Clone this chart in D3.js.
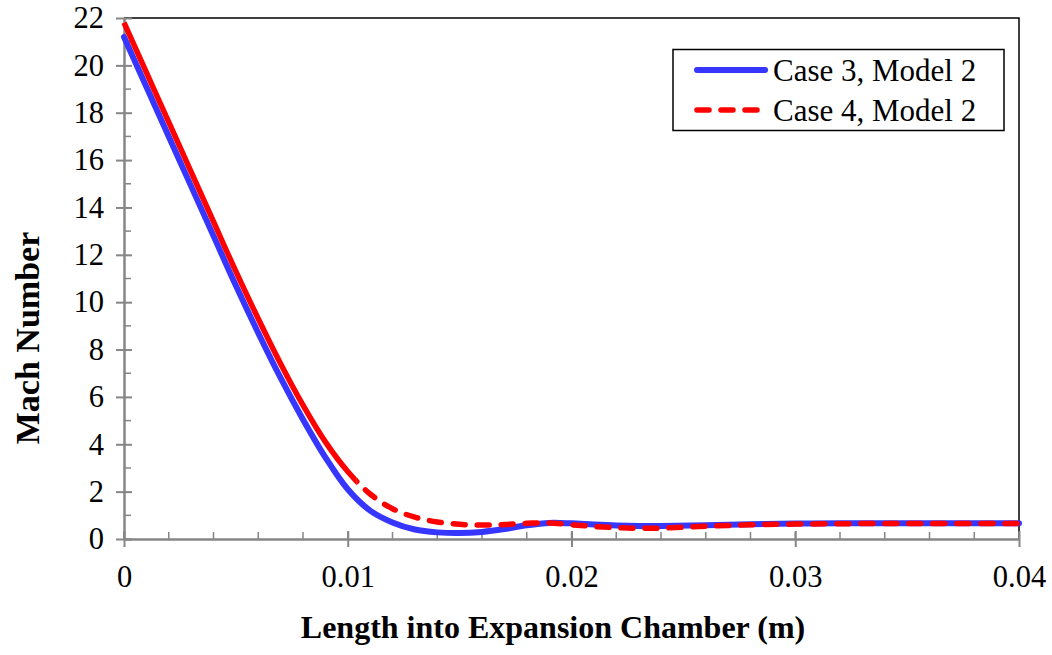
<!DOCTYPE html>
<html>
<head>
<meta charset="utf-8">
<script src="https://cdn.jsdelivr.net/npm/d3@7"></script>
<style>
  html, body { margin: 0; padding: 0; background: #fff; }
  svg { display: block; }
  text { font-family: "Liberation Serif", "Times New Roman", serif; fill: #000; }
</style>
</head>
<body>
<svg id="chart" width="1052" height="655"></svg>
<script>
// Mach number along the expansion chamber, two cases
const lengthCase3 = [0, 0.001, 0.002, 0.003, 0.004, 0.005, 0.006, 0.007, 0.008, 0.009, 0.010, 0.011,
  0.012, 0.013, 0.014, 0.015, 0.016, 0.017, 0.018, 0.019, 0.020, 0.021, 0.022, 0.023, 0.024,
  0.026, 0.028, 0.030, 0.032, 0.035, 0.040];
const machCase3 = [21.2, 19.1, 17.0, 14.9, 12.8, 10.7, 8.7, 6.8, 5.05, 3.45, 2.1, 1.2,
  0.7, 0.4, 0.28, 0.25, 0.3, 0.42, 0.58, 0.68, 0.66, 0.61, 0.57, 0.55, 0.55,
  0.58, 0.62, 0.65, 0.66, 0.66, 0.66];

const lengthCase4 = [0, 0.001, 0.002, 0.003, 0.004, 0.005, 0.006, 0.007, 0.008, 0.009, 0.010, 0.011,
  0.012, 0.013, 0.014, 0.015, 0.016, 0.017, 0.018, 0.019, 0.020, 0.021, 0.022, 0.023, 0.024,
  0.025, 0.026, 0.027, 0.028, 0.030, 0.033, 0.036, 0.040];
const machCase4 = [21.8, 19.7, 17.6, 15.5, 13.4, 11.3, 9.3, 7.4, 5.65, 4.1, 2.85, 1.9,
  1.28, 0.92, 0.72, 0.62, 0.59, 0.61, 0.66, 0.68, 0.6, 0.53, 0.48, 0.45, 0.46,
  0.5, 0.54, 0.57, 0.6, 0.63, 0.65, 0.65, 0.65];

const seriesNames = ["Case 3, Model 2", "Case 4, Model 2"];
const xTicks = [0, 0.01, 0.02, 0.03, 0.04];
const xTickLabels = ["0", "0.01", "0.02", "0.03", "0.04"];
const yTicks = [0, 2, 4, 6, 8, 10, 12, 14, 16, 18, 20, 22];
const xTitle = "Length into Expansion Chamber (m)";
const yTitle = "Mach Number";
// the Case 4 trace is drawn solid up to this length, dashed beyond it
const case4DashFrom = 0.0104;

const svg = d3.select("#chart");
const plot = { left: 124, right: 1019, top: 18, bottom: 539 };

const x = d3.scaleLinear().domain([0, 0.04]).range([plot.left, plot.right]);
const y = d3.scaleLinear().domain([0, 22]).range([plot.bottom, plot.top]);

const axisGrey = "#868686";
const blue = "#3636ff";
const red = "#ff0000";
const serif = "Liberation Serif, Times New Roman, serif";

// top and right frame lines
svg.append("path")
  .attr("d", `M${plot.left},${plot.top}H${plot.right}V${plot.bottom}`)
  .attr("fill", "none").attr("stroke", "#000").attr("stroke-width", 1.5);

// minor ticks (inside)
const xMinor = d3.range(0, 0.04 + 1e-9, 0.002);
svg.append("g").selectAll("line").data(xMinor).join("line")
  .attr("x1", d => x(d)).attr("x2", d => x(d))
  .attr("y1", plot.bottom).attr("y2", plot.bottom - 7)
  .attr("stroke", axisGrey).attr("stroke-width", 1.5);
const yMinor = d3.range(1, 22, 2);
svg.append("g").selectAll("line").data(yMinor).join("line")
  .attr("x1", plot.left).attr("x2", plot.left + 7)
  .attr("y1", d => y(d)).attr("y2", d => y(d))
  .attr("stroke", axisGrey).attr("stroke-width", 1.5);

// x axis with major ticks crossing the axis line
const xAxis = d3.axisBottom(x).tickValues(xTicks)
  .tickFormat((d, i) => xTickLabels[i]).tickSize(8).tickSizeOuter(0).tickPadding(18);
const gx = svg.append("g").attr("transform", `translate(0,${plot.bottom})`).call(xAxis);
gx.select(".domain").attr("stroke", axisGrey).attr("stroke-width", 2.5);
gx.selectAll(".tick line").attr("stroke", axisGrey).attr("stroke-width", 2)
  .attr("y1", -8).attr("y2", 8);
gx.selectAll(".tick text").attr("font-size", 30.5)
  .attr("font-family", serif).attr("fill", "#000");

const yAxis = d3.axisLeft(y).tickValues(yTicks).tickSize(8).tickSizeOuter(0).tickPadding(12);
const gy = svg.append("g").attr("transform", `translate(${plot.left},0)`).call(yAxis);
gy.select(".domain").attr("stroke", axisGrey).attr("stroke-width", 2.5);
gy.selectAll(".tick line").attr("stroke", axisGrey).attr("stroke-width", 2)
  .attr("x1", -8).attr("x2", 8);
gy.selectAll(".tick text").attr("font-size", 30.5)
  .attr("font-family", serif).attr("fill", "#000");

// axis titles
svg.append("text")
  .attr("x", 553).attr("y", 638)
  .attr("text-anchor", "middle").attr("font-size", 32).attr("font-weight", "bold")
  .text(xTitle);
svg.append("text")
  .attr("transform", `translate(39,338) rotate(-90)`)
  .attr("text-anchor", "middle").attr("font-size", 34).attr("font-weight", "bold")
  .text(yTitle);

// curves
const line = d3.line().x(d => x(d[0])).y(d => y(d[1])).curve(d3.curveCatmullRom.alpha(0.5));
const case3 = lengthCase3.map((d, i) => [d, machCase3[i]]);
const case4 = lengthCase4.map((d, i) => [d, machCase4[i]]);

const defs = svg.append("defs");
defs.append("clipPath").attr("id", "solidPart").append("rect")
  .attr("x", 0).attr("y", 0).attr("width", x(case4DashFrom)).attr("height", 655);
defs.append("clipPath").attr("id", "dashPart").append("rect")
  .attr("x", x(case4DashFrom)).attr("y", 0).attr("width", 1052).attr("height", 655);

svg.append("path").datum(case3).attr("d", line)
  .attr("fill", "none").attr("stroke", blue).attr("stroke-width", 6)
  .attr("stroke-linecap", "round");

svg.append("path").datum(case4).attr("d", line)
  .attr("clip-path", "url(#solidPart)")
  .attr("fill", "none").attr("stroke", red).attr("stroke-width", 5.5);
svg.append("path").datum(case4).attr("d", line)
  .attr("clip-path", "url(#dashPart)")
  .attr("fill", "none").attr("stroke", red).attr("stroke-width", 5.5)
  .attr("stroke-dasharray", "12,12").attr("stroke-dashoffset", 0)
  .attr("stroke-linecap", "round");

// legend
const lg = svg.append("g");
lg.append("rect").attr("x", 673).attr("y", 49.5).attr("width", 331).attr("height", 81)
  .attr("fill", "#fff").attr("stroke", "#000").attr("stroke-width", 1.5);
const legendItems = [
  { name: seriesNames[0], color: blue, dash: null },
  { name: seriesNames[1], color: red, dash: "12,12" }
];
legendItems.forEach((it, i) => {
  const ly = 70 + i * 40;
  lg.append("line").attr("x1", 697).attr("x2", 765).attr("y1", ly).attr("y2", ly)
    .attr("stroke", it.color).attr("stroke-width", it.dash ? 5.5 : 6)
    .attr("stroke-linecap", "round")
    .attr("stroke-dasharray", it.dash);
  lg.append("text").attr("x", 773).attr("y", ly + 10.5)
    .attr("font-size", 31).text(it.name);
});
</script>
</body>
</html>
